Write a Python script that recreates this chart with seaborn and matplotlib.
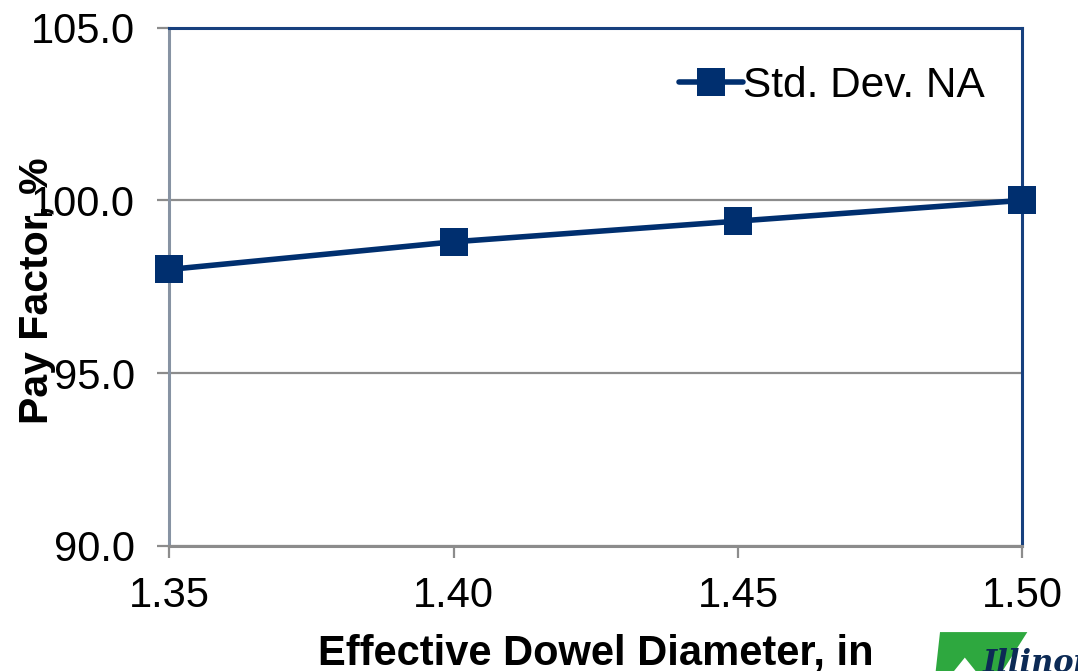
import matplotlib
matplotlib.use("Agg")
import matplotlib.pyplot as plt
import matplotlib.patches as mpatches
import seaborn as sns
import pandas as pd

# Pay factor versus effective dowel diameter
diameters = [1.35, 1.40, 1.45, 1.50]
pay_factor = [98.0, 98.8, 99.4, 100.0]
series_name = "Std. Dev. NA"
x_ticks = [1.35, 1.40, 1.45, 1.50]
y_ticks = [90.0, 95.0, 100.0, 105.0]

df = pd.DataFrame({"diameter": diameters, "pay": pay_factor, "series": series_name})

sns.set_theme(style="white")
plt.rcParams["font.family"] = ["Liberation Sans", "DejaVu Sans"]
plt.rcParams["text.color"] = "black"
plt.rcParams["axes.labelcolor"] = "black"

NAVY = "#002f6f"
GRID = "#8c8c8c"

fig = plt.figure(figsize=(10.78, 6.71), dpi=100)
ax = fig.add_axes([0.1568, 0.1863, 0.7917, 0.7727])

sns.lineplot(data=df, x="diameter", y="pay", hue="series", palette=[NAVY],
             marker="s", markersize=20.5, linewidth=4.0, markeredgewidth=0,
             ax=ax, zorder=5, clip_on=False)

ax.set_xlim(1.35, 1.50)
ax.set_ylim(90, 105)
ax.set_xticks(x_ticks)
ax.set_xticklabels([f"{v:.2f}" for v in x_ticks])
ax.set_yticks(y_ticks)
ax.set_yticklabels([f"{v:.1f}" for v in y_ticks])

ax.yaxis.grid(True, color=GRID, linewidth=1.6)
ax.xaxis.grid(False)
ax.set_axisbelow(True)

ax.spines["left"].set_color("#8793a3")
ax.spines["left"].set_linewidth(2.2)
ax.spines["bottom"].set_color(GRID)
ax.spines["bottom"].set_linewidth(2.2)
ax.spines["top"].set_color("#17407e")
ax.spines["top"].set_linewidth(2.2)
ax.spines["right"].set_color("#17407e")
ax.spines["right"].set_linewidth(2.2)

ax.tick_params(axis="both", which="major", direction="out", length=8.6,
               width=1.6, color=GRID, labelsize=30, labelcolor="black")
ax.tick_params(axis="y", pad=16)
ax.tick_params(axis="x", pad=13)
ax.tick_params(left=True, bottom=True)

ax.set_xlabel("Effective Dowel Diameter, in", fontsize=30, fontweight="bold",
              color="black")
ax.set_ylabel("Pay Factor, %", fontsize=29.5, fontweight="bold", color="black")
ax.xaxis.set_label_coords(0.5, -0.168)
ax.yaxis.set_label_coords(-0.133, 0.492)

leg = ax.legend(loc="upper right", bbox_to_anchor=(0.985, 0.975), frameon=False,
                fontsize=30.5, handlelength=1.5, handletextpad=0.0,
                borderaxespad=0.2)
for h in leg.legend_handles:
    h.set_markersize(20.5)
for t in leg.get_texts():
    t.set_color("black")

# Corner logo
logo = mpatches.Polygon([(0.872, 0.058), (0.953, 0.058), (0.93, 0.0), (0.905, 0.0),
                         (0.895, 0.02), (0.885, 0.0), (0.868, 0.0)],
                        closed=True, transform=fig.transFigure,
                        facecolor="#2ea83f", edgecolor="none")
fig.patches.append(logo)
fig.text(0.912, -0.012, "Illinois", transform=fig.transFigure, fontsize=22,
         fontstyle="italic", fontweight="bold", family="DejaVu Serif",
         color="#0c2a55", ha="left", va="bottom")

fig.savefig("out.png", dpi=100)
